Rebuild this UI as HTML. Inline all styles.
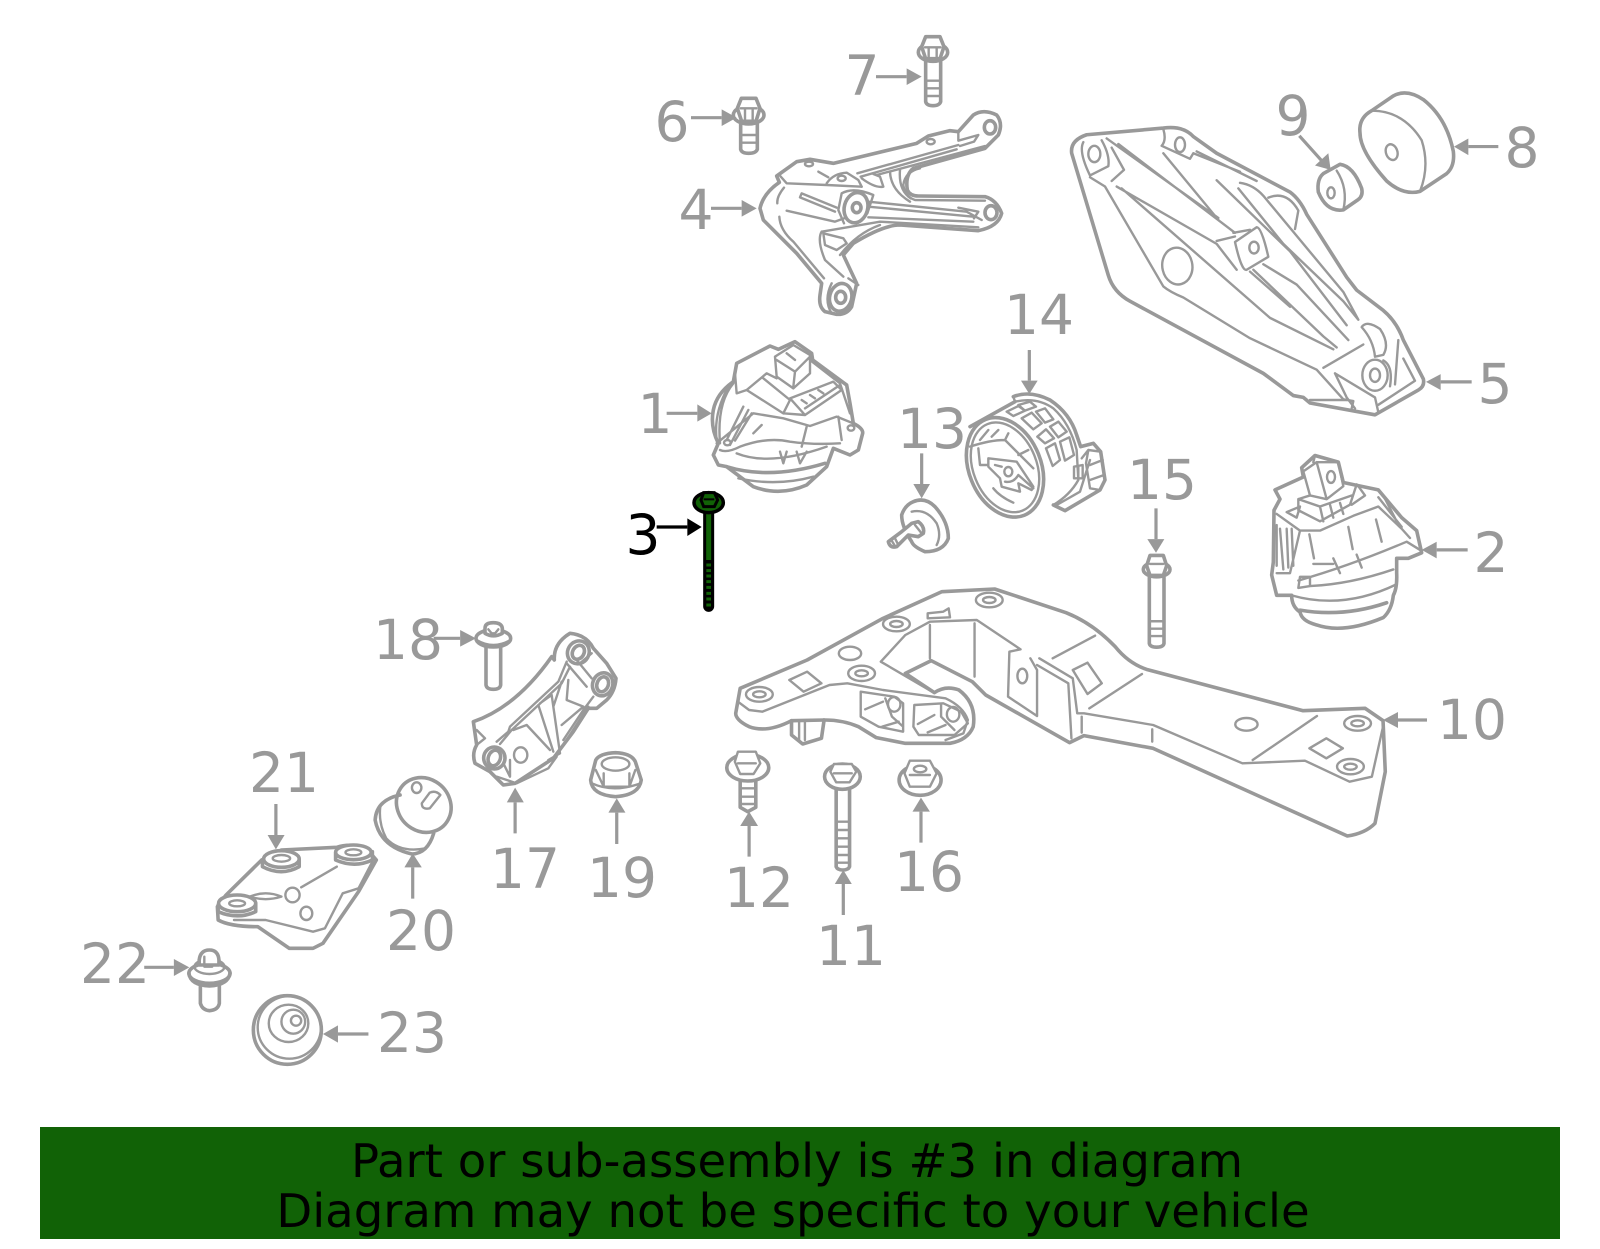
<!DOCTYPE html>
<html><head><meta charset="utf-8"><style>
html,body{margin:0;padding:0;background:#fff}
svg{display:block}
*{vector-effect:non-scaling-stroke}
.p{fill:none;stroke:#999;stroke-width:3.6;stroke-linejoin:round;stroke-linecap:round}
.p .t,.t{stroke-width:2.4}
.a{fill:#999;stroke:none}
.l{stroke:#999;stroke-width:3.2;fill:none}
text{font-family:"DejaVu Sans","Liberation Sans",sans-serif;font-size:55px;fill:#999;text-anchor:middle}
</style></head><body>
<svg width="1600" height="1249" viewBox="0 0 1600 1249" xmlns="http://www.w3.org/2000/svg">
<rect width="1600" height="1249" fill="#fff"/>

<!-- Zoom 1 group -->
<g transform="translate(620,20) scale(0.33333)">
<g class="p">
 <!-- 7 -->
 <ellipse cx="939" cy="97" rx="44" ry="27"/>
 <path d="M917 50 L960 50 L972 80 L960 116 L917 116 L905 80 Z" fill="#fff"/>
 <path class="t" d="M915 82 H962 M926 82 V114 M950 82 V114"/>
 <path d="M917 122 V245 Q920 257 939 257 Q958 257 962 245 V122"/>
 <path class="t" d="M917 182 H962 M917 205 H962 M917 228 H962"/>
 <!-- 6 -->
 <ellipse cx="386" cy="285" rx="46" ry="27"/>
 <path d="M364 235 L408 235 L420 265 L408 304 L365 304 L352 265 Z" fill="#fff"/>
 <path class="t" d="M362 265 H410 M375 265 V302 M398 265 V302"/>
 <path d="M362 310 V388 Q365 400 386 400 Q408 400 412 388 V310"/>
 <path class="t" d="M362 345 H412 M362 368 H412"/>
 <!-- 4 -->
 <path d="M420 565 Q430 520 478 487 L470 468 L530 425 L570 418 L640 430 L890 370 L925 348 L990 332 L1015 335 L1060 285 Q1090 265 1130 285 Q1150 310 1135 345 L1095 385 L880 445 Q855 465 862 510 Q870 528 895 528 L1095 530 Q1130 540 1145 580 Q1135 620 1075 632 L840 615 Q790 615 700 670 L670 705 L710 790 L695 860 Q680 885 650 883 L615 875 Q595 860 600 825 L605 790 L530 700 L430 600 Z"/>
 <path class="t" d="M478 465 L500 490 L620 495 L725 500 M492 503 Q470 530 472 550 M478 590 Q480 630 520 665 L612 775"/>
 <ellipse cx="708" cy="563" rx="35" ry="46" transform="rotate(15 708 563)"/>
 <ellipse cx="710" cy="563" rx="13" ry="15"/>
 <path class="t" d="M665 520 L655 570 L672 610 M665 520 Q700 500 760 525 L742 580"/>
 <path class="t" d="M545 520 L650 563 M540 532 L645 575 M545 520 L540 532 M500 572 L645 605 L672 595"/>
 <ellipse class="t" cx="567" cy="432" rx="12" ry="7"/>
 <ellipse class="t" cx="665" cy="475" rx="12" ry="8"/>
 <ellipse class="t" cx="932" cy="365" rx="12" ry="8"/>
 <path class="t" d="M595 455 L625 472 M620 490 Q640 460 680 458 L715 480 L725 500 M725 475 Q765 505 790 500 L780 470 L760 462"/>
 <path class="t" d="M712 460 L1015 375 M722 470 L1010 388 M770 465 L1095 378 M1015 335 L1015 362 L1075 345 L1062 365 L1020 378"/>
 <ellipse cx="1110" cy="322" rx="17" ry="20"/>
 <path class="t" d="M810 455 Q812 510 870 545 M840 450 Q835 510 872 535 M900 445 Q855 455 850 495 Q855 530 885 540 L1095 542"/>
 <path class="t" d="M745 545 L1040 575 L1085 600 M745 560 L1060 590 M745 592 L1060 605 M1015 563 L1075 575 L1062 595"/>
 <ellipse cx="1113" cy="578" rx="18" ry="21"/>
 <path class="t" d="M605 635 L780 605 L1075 622 M605 635 Q590 660 615 720 L670 770 M610 640 L670 655 L680 670 L650 690 L615 675 Z M660 705 Q710 640 780 615"/>
 <ellipse cx="662" cy="832" rx="33" ry="42" transform="rotate(15 662 832)"/>
 <ellipse cx="662" cy="832" rx="15" ry="18"/>
 <path class="t" d="M635 790 Q610 840 635 880 M685 775 L715 795"/>
 <!-- 1 -->
 <path d="M350 1030 L450 978 L475 988 L525 965 L575 1000 L578 1020 L680 1095 L690 1150 L700 1210 Q730 1225 728 1240 L715 1290 L690 1305 L640 1285 L620 1340 L560 1395 Q480 1430 400 1400 L320 1340 L295 1335 L280 1305 L295 1270 Q270 1220 280 1170 Q290 1120 340 1085 Z"/>
 <path class="t" d="M465 1010 L520 975 L570 1005 L570 1060 L520 1105 L470 1070 Z M470 1020 L525 1055 L570 1010 M525 1055 L520 1100 M500 1000 L525 1020"/>
 <path class="t" d="M380 1110 L440 1060 L470 1075 M380 1110 L490 1180 L510 1140 L430 1075 M510 1135 L640 1085 L665 1110 L555 1185 Z M490 1180 L555 1185 M555 1165 L660 1095 M545 1140 L560 1150 M570 1125 L585 1135 M595 1110 L610 1120"/>
 <path class="t" d="M345 1060 L350 1120 L380 1110 M570 1020 L660 1090 L690 1180 M290 1270 L400 1180 L490 1195 L570 1218 L650 1190 L700 1210 M330 1275 L385 1170 M320 1260 L370 1160 M345 1262 L395 1180 M300 1290 Q320 1300 360 1280 Q440 1250 510 1265 Q580 1275 660 1270 M560 1220 L545 1280 M425 1215 L400 1240 M655 1190 L665 1260"/>
 <path class="t" d="M350 1300 Q450 1340 620 1280 M480 1295 L490 1330 L500 1295 M530 1295 L540 1330 L560 1295"/>
 <path d="M320 1340 Q450 1380 615 1330"/>
 <path class="t" d="M355 1375 Q470 1400 580 1370 M340 1090 Q290 1150 300 1270 M325 1100 Q280 1180 290 1260"/>
 <ellipse class="t" cx="322" cy="1268" rx="10" ry="8"/>
 <ellipse class="t" cx="693" cy="1224" rx="10" ry="8"/>
</g>
<path class="l" d="M213 293 H305 M768 170 H860 M273 565 H365 M140 1180 H232 M1228 990 V1082 M905 1300 V1392"/>
<polygon class="a" points="305,268 350,293 305,318"/>
<polygon class="a" points="860,145 905,170 860,195"/>
<polygon class="a" points="365,540 410,565 365,590"/>
<polygon class="a" points="232,1153 275,1180 232,1205"/>
<polygon class="a" points="1203,1082 1228,1122 1253,1082"/>
<polygon class="a" points="880,1392 905,1435 930,1392"/>
</g>

<!-- Zoom 2 group -->
<g transform="translate(1050,70) scale(0.33333,0.36996)">
<g class="p">
 <!-- 5 -->
 <path d="M65 225 Q60 190 110 175 L340 157 Q400 150 430 180 L500 225 L720 330 Q750 350 770 390 L890 560 L920 595 L1000 650 Q1040 680 1060 730 L1120 835 Q1125 855 1105 865 L975 932 L780 900 L760 885 L730 880 L640 820 L240 625 Q190 600 175 555 Z"/>
 <ellipse class="t" cx="133" cy="227" rx="18" ry="22"/>
 <path class="t" d="M100 195 Q85 220 120 285 L175 260 Q180 230 155 190 M120 290 L165 315 L340 585 Q360 600 400 615 L600 725 L800 810 L880 890 L910 895 L905 915"/>
 <ellipse class="t" cx="390" cy="202" rx="15" ry="20"/>
 <path class="t" d="M340 160 Q350 190 335 205 L420 240 M170 185 L505 400 M205 200 L555 440 M185 210 L222 270 L185 300 M200 315 L500 470 L560 540 M215 320 L660 670 L850 755 M340 225 L505 405 M420 240 L430 225 L570 275 M440 220 L620 300 M500 298 L720 490 L890 690 M565 320 L700 470 L880 625 L925 675 M570 305 Q610 310 640 340 L880 600 L925 675"/>
 <ellipse class="t" cx="382" cy="530" rx="45" ry="50" transform="rotate(-15 382 530)"/>
 <path class="t" d="M655 345 Q710 325 745 380 L735 430"/>
 <path class="t" d="M555 465 L620 425 Q635 425 655 505 L590 540 Q575 545 555 465 Z M500 462 L555 450 M550 440 L600 432 M610 540 L820 720 L860 750 M640 525 L740 580 L895 730 M600 545 L720 640"/>
 <ellipse class="t" cx="612" cy="480" rx="14" ry="16"/>
 <path class="t" d="M820 805 L940 742"/>
 <ellipse class="t" cx="975" cy="825" rx="38" ry="42"/>
 <ellipse class="t" cx="975" cy="825" rx="15" ry="18"/>
 <path class="t" d="M1000 785 Q1030 800 1020 855 M935 695 Q950 675 990 700 Q1020 740 1000 770 L975 775 Q970 730 935 695Z M1045 730 L1035 850 M855 820 L975 885 L985 925 M855 820 L890 885 L915 915 M780 892 L890 892 M1060 780 L1095 840 L985 905"/>
 <!-- 9 -->
 <path d="M820 280 L870 255 Q910 260 935 320 Q940 340 925 350 L880 378 Q830 385 805 330 Q800 295 820 280Z"/>
 <path class="t" d="M860 272 Q895 320 880 378"/>
 <ellipse class="t" cx="843" cy="332" rx="11" ry="15"/>
 <!-- 8 -->
 <path d="M930 170 Q925 130 965 110 L1030 70 Q1070 50 1120 80 Q1190 130 1210 220 Q1215 260 1190 280 L1110 328 Q1060 340 1010 300 Q930 220 930 170Z"/>
 <path class="t" d="M965 110 Q1060 110 1115 190 Q1140 260 1110 328"/>
 <ellipse class="t" cx="1025" cy="222" rx="17" ry="22" transform="rotate(-25 1025 222)"/>
 <!-- 2 -->
 <path d="M675 1135 L760 1100 L755 1075 L795 1042 L865 1060 L880 1115 L985 1135 L1055 1210 L1100 1245 L1115 1305 L1075 1320 L1040 1320 L1040 1360 Q1042 1400 1030 1420 Q1025 1460 1000 1480 Q880 1525 800 1500 Q755 1490 750 1465 Q725 1450 725 1420 L680 1420 L665 1365 L670 1330 L672 1190 L690 1160 Z"/>
 <path class="t" d="M760 1085 L800 1060 L865 1060 M760 1085 L780 1150 L830 1160 L880 1125 L865 1060 M800 1060 L830 1160 M795 1042 L790 1060"/>
 <ellipse class="t" cx="843" cy="1100" rx="12" ry="16"/>
 <path class="t" d="M745 1160 L780 1150 M745 1160 L745 1190 L810 1220 L900 1175 L920 1120 M810 1180 L820 1220 M840 1175 L850 1210 M870 1170 L880 1200 M745 1160 L810 1180 L905 1150 M710 1195 L750 1180 L740 1210 Z M905 1175 L945 1150 L925 1125"/>
 <path class="t" d="M680 1200 L750 1245 L810 1245 L910 1205 L985 1180 L1055 1240 L1080 1265 M985 1155 L1055 1235 M1000 1150 L1040 1220 M690 1240 L700 1350 M710 1240 L715 1345 M725 1240 L730 1340 M680 1230 L680 1340 M750 1245 L720 1360 L680 1360 M778 1255 L792 1320 M895 1235 L908 1295 M978 1215 L995 1275"/>
 <path class="t" d="M745 1380 Q900 1340 1070 1275 L1115 1300 M750 1370 L745 1400 L780 1395 L780 1370 Z M780 1395 Q900 1390 1030 1350 M790 1335 L850 1335 M850 1320 L870 1360 M920 1310 L935 1345 M725 1420 Q880 1460 1040 1390"/>
 <path d="M750 1460 Q880 1480 1010 1440"/>
 <!-- 15 -->
 <ellipse cx="320" cy="1350" rx="40" ry="20"/>
 <path d="M300 1312 L340 1312 L350 1340 L340 1366 L300 1366 L290 1340 Z" fill="#fff"/>
 <path class="t" d="M300 1335 H340"/>
 <path d="M298 1372 V1550 Q300 1560 320 1560 Q340 1560 342 1550 V1372"/>
 <path class="t" d="M298 1490 H342 M298 1510 H342 M298 1530 H342"/>
</g>
<path class="l" d="M1345 207 H1255 M748 178 L815 245 M1265 843 H1172 M1253 1297 H1160 M318 1185 V1268"/>
<polygon class="a" points="1255,185 1212,207 1255,230"/>
<polygon class="a" points="835,225 842,270 795,258"/>
<polygon class="a" points="1172,822 1128,843 1172,865"/>
<polygon class="a" points="1160,1275 1115,1297 1160,1320"/>
<polygon class="a" points="292,1268 318,1305 343,1268"/>
</g>

<!-- Zoom 3 group -->
<g transform="translate(700,570) scale(0.44643,0.33333)">
<g class="p">
 <path d="M90 355 L240 270 L410 145 L542 65 L660 57 L820 128 Q880 160 930 230 Q960 280 1000 298 L1350 422 L1490 415 L1530 452 L1535 605 L1512 760 Q1490 790 1450 798 L1015 535 L860 497 L828 518 L640 375 L610 335 L518 272 L460 310 L525 368 Q550 345 580 360 Q620 400 612 470 Q600 510 560 520 L460 520 L395 503 L355 470 Q320 450 280 450 L205 452 Q150 490 110 470 Q80 450 80 430 Z"/>
 <path class="t" d="M85 395 L110 420 L140 425 L290 345 L330 340 L410 360 L550 385 Q590 410 600 450 L590 490 L550 510"/>
 <ellipse class="t" cx="133" cy="373" rx="30" ry="22"/><ellipse class="t" cx="133" cy="373" rx="14" ry="9"/>
 <ellipse class="t" cx="440" cy="162" rx="30" ry="22"/><ellipse class="t" cx="440" cy="162" rx="14" ry="9"/>
 <ellipse class="t" cx="648" cy="90" rx="30" ry="22"/><ellipse class="t" cx="648" cy="90" rx="14" ry="9"/>
 <ellipse class="t" cx="362" cy="310" rx="30" ry="23"/><ellipse class="t" cx="362" cy="310" rx="14" ry="9"/>
 <ellipse class="t" cx="1473" cy="460" rx="30" ry="22"/><ellipse class="t" cx="1473" cy="460" rx="14" ry="9"/>
 <ellipse class="t" cx="1457" cy="590" rx="30" ry="23"/><ellipse class="t" cx="1457" cy="590" rx="14" ry="9"/>
 <ellipse class="t" cx="336" cy="250" rx="25" ry="20"/>
 <ellipse class="t" cx="1224" cy="463" rx="25" ry="19"/>
 <ellipse class="t" cx="722" cy="318" rx="11" ry="22"/>
 <path class="t" d="M200 330 L240 305 L272 340 L232 365 Z M510 145 L510 130 L545 125 L557 115 L560 142 Z M835 300 L868 278 L900 340 L868 372 Z M1365 535 L1403 505 L1440 535 L1403 565 Z"/>
 <path class="t" d="M405 275 L460 195 L515 155 L620 150 L718 238 L693 245 L690 380 L755 438 L755 300 M515 165 L515 265 M615 160 L615 320 M405 275 L520 365 M740 265 L755 300"/>
 <path class="t" d="M760 265 L835 325 L845 430 L860 430 L1015 465 L1215 580 L1355 572 L1455 635 L1505 620 L1530 470 M755 285 L825 340 L832 505 M855 440 L855 488 M1013 478 L1013 515 M790 265 L885 197 M872 415 L990 312 M1238 570 L1382 438"/>
 <path class="t" d="M360 365 L435 380 L455 400 L455 485 L400 470 L360 440 Z M415 385 L430 440 L455 470 M370 418 L410 395 M408 470 L445 455"/>
 <ellipse class="t" cx="435" cy="403" rx="14" ry="22"/>
 <path class="t" d="M480 405 L545 400 L585 425 L600 460 L570 495 L490 495 L478 470 Z M540 405 L540 440 L570 480 M488 462 L525 435 M510 487 L550 465"/>
 <ellipse class="t" cx="567" cy="433" rx="14" ry="22"/>
 <path d="M205 452 L205 495 L230 522 L272 505 L278 450"/>
 <path class="t" d="M222 455 V510 M235 455 V510"/>
 <!-- 12 -->
 <ellipse cx="107" cy="593" rx="47" ry="40"/>
 <path class="t" d="M85 545 L125 545 L135 580 L120 612 L90 612 L78 575 Z M85 580 L125 580" fill="#fff"/>
 <path d="M90 632 V712 L107 725 L125 712 V632"/>
 <path class="t" d="M90 655 H125 M90 680 H125 M90 702 H125"/>
 <!-- 11 -->
 <ellipse cx="319" cy="620" rx="40" ry="38"/>
 <path class="t" d="M300 582 L340 582 L350 605 L335 637 L305 637 L292 605Z M300 610 L340 610" fill="#fff"/>
 <path d="M305 658 V890 Q308 900 320 900 Q332 900 335 890 V658"/>
 <path class="t" d="M305 755 H335 M305 780 H335 M305 805 H335 M305 830 H335 M305 855 H335 M305 878 H335"/>
 <!-- 16 -->
 <ellipse cx="493" cy="630" rx="47" ry="46"/>
 <path class="t" d="M470 572 L515 572 L530 610 L515 650 L470 650 L458 610Z M470 615 L515 615" fill="#fff"/>
 <ellipse class="t" cx="493" cy="597" rx="14" ry="10"/>
</g>
<path class="l" d="M110 860 V768 M321 1035 V942 M495 818 V725"/>
<polygon class="a" points="90,768 110,725 130,768"/>
<polygon class="a" points="302,942 321,900 340,942"/>
<polygon class="a" points="476,725 495,683 515,725"/>
</g>
<path class="l" d="M1398 720 H1427"/>
<polygon class="a" points="1398,712 1383,720 1398,728"/>

<!-- Zoom 4 group -->
<g transform="translate(60,590) scale(0.39541,0.33333)">
<g class="p">
 <!-- 19 -->
 <path d="M1355 510 Q1365 490 1405 488 Q1445 490 1455 515 L1470 570 Q1465 615 1405 620 Q1345 615 1342 570 Z"/>
 <ellipse class="t" cx="1405" cy="522" rx="35" ry="20"/>
 <path class="t" d="M1355 540 L1375 590 L1440 590 L1455 540 M1345 580 Q1400 610 1468 580 M1375 550 V590 M1440 550 V590"/>
 <!-- 20 -->
 <ellipse cx="920" cy="645" rx="68" ry="83" transform="rotate(-15 920 645)"/>
 <path d="M860 615 Q800 630 797 690 Q810 770 890 792 Q930 790 945 730"/>
 <path class="t" d="M810 650 Q805 700 825 745 Q860 790 925 775"/>
 <ellipse class="t" cx="902" cy="593" rx="12" ry="16"/>
 <path class="t" d="M915 640 L935 608 Q950 600 962 615 L935 655 Q915 660 915 640Z"/>
 <!-- 21 -->
 <path d="M510 810 L560 780 L700 772 Q760 750 800 810 L755 905 L665 1060 L640 1075 L580 1075 L500 1010 Q430 1010 400 990 L398 950 L420 915 Z"/>
 <ellipse cx="560" cy="807" rx="45" ry="25" fill="#fff"/>
 <path d="M512 810 V830 Q560 860 605 830 V810"/>
 <ellipse class="t" cx="560" cy="805" rx="22" ry="10"/>
 <ellipse cx="742" cy="787" rx="45" ry="22" fill="#fff"/>
 <path d="M697 790 V810 Q745 835 790 810 V785"/>
 <ellipse class="t" cx="742" cy="787" rx="20" ry="9"/>
 <ellipse cx="448" cy="940" rx="47" ry="25" fill="#fff"/>
 <path d="M400 945 V965 Q450 990 495 965 V940"/>
 <ellipse class="t" cx="448" cy="940" rx="20" ry="9"/>
 <path class="t" d="M610 892 L700 830 M480 920 Q520 900 560 920 Q520 935 480 920Z M440 990 L520 990 L640 1025 L670 1015 L715 910 L755 895 L790 815"/>
 <ellipse class="t" cx="588" cy="915" rx="18" ry="22"/>
 <ellipse class="t" cx="623" cy="970" rx="15" ry="20"/>
 <!-- 22 -->
 <ellipse cx="378" cy="1150" rx="52" ry="30"/>
 <path d="M326 1150 Q330 1185 378 1188 Q425 1185 430 1150"/>
 <ellipse class="t" cx="378" cy="1130" rx="38" ry="22"/>
 <path d="M352 1110 Q355 1080 378 1080 Q400 1080 402 1110 V1125 H352Z" fill="#fff"/>
 <path class="t" d="M365 1100 V1130 H385"/>
 <path d="M355 1190 V1240 Q360 1260 378 1262 Q400 1260 403 1240 V1190"/>
 <!-- 23 -->
 <ellipse cx="575" cy="1320" rx="86" ry="103"/>
 <ellipse class="t" cx="580" cy="1312" rx="80" ry="94"/>
 <ellipse class="t" cx="578" cy="1300" rx="50" ry="56"/>
 <ellipse class="t" cx="590" cy="1295" rx="30" ry="36"/>
 <ellipse class="t" cx="597" cy="1292" rx="13" ry="15"/>
</g>
<path class="l" d="M945 145 H1012 M1151 730 V637 M1408 762 V668 M892 926 V832 M546 642 V735 M213 1132 H288 M780 1332 H703"/>
<polygon class="a" points="1012,120 1052,145 1012,170"/>
<polygon class="a" points="1130,637 1151,593 1173,637"/>
<polygon class="a" points="1387,668 1408,625 1430,668"/>
<polygon class="a" points="871,832 892,790 915,832"/>
<polygon class="a" points="525,735 546,778 568,735"/>
<polygon class="a" points="288,1107 327,1132 288,1158"/>
<polygon class="a" points="703,1306 665,1332 703,1358"/>
</g>

<!-- Part 3 -->
<g transform="translate(610,480) scale(0.33333)">
 <path d="M296 92 V379" stroke="#000" stroke-width="11" stroke-linecap="round" fill="none"/>
 <path d="M296 92 V240" stroke="#116206" stroke-width="5" fill="none"/>
 <path d="M289 255 H303 M289 272 H303 M289 288 H303 M289 305 H303 M289 322 H303 M289 340 H303 M289 357 H303 M289 375 H303" stroke="#116206" stroke-width="3" fill="none"/>
 <ellipse cx="296" cy="68" rx="44" ry="30" fill="#116206" stroke="#000" stroke-width="3.5"/>
 <path d="M281 38 L313 38 L323 60 L313 80 L281 80 L273 60 Z" fill="#116206" stroke="#000" stroke-width="3"/>
 <path d="M281 58 H313" stroke="#000" stroke-width="2"/>
 <path d="M140 141 H232" stroke="#000" stroke-width="3.2" fill="none"/>
 <polygon points="232,115 275,141 232,168" fill="#000"/>
</g>

<!-- Part 13 -->
<g transform="translate(870,480) scale(0.33333)" class="p">
 <path d="M130 65 Q165 50 195 80 Q235 125 235 175 Q220 215 165 215 Q130 200 125 185 Q95 140 95 105 Q105 75 130 65Z"/>
 <path class="t" d="M125 95 Q170 85 200 130 Q215 165 200 195"/>
 <path d="M125 130 L145 125 Q165 140 160 160 L145 170 L115 165 L80 200 Q60 205 55 185 L95 155 L125 130Z" fill="#fff"/>
 <path class="t" d="M135 135 L155 160 M75 175 L85 195 M65 182 L75 198"/>
</g>

<!-- Part 14 -->
<g transform="translate(950,380) scale(0.33333)" class="p">
 <ellipse cx="165" cy="262" rx="108" ry="155" transform="rotate(-22 165 262)"/>
 <ellipse class="t" cx="165" cy="262" rx="95" ry="140" transform="rotate(-22 165 262)"/>
 <path d="M60 140 L195 65 M190 50 Q240 30 300 60 Q360 100 380 165 L392 200 L430 190 L452 215 L465 300 L450 330 L345 392 L310 375"/>
 <path class="t" d="M190 50 L195 65 Q260 50 310 85 Q360 130 380 210 L385 300 Q360 345 310 375"/>
 <path class="t" d="M215 115 L245 98 L275 130 L250 148Z M258 95 L285 85 L310 118 L285 128Z M262 170 L288 148 L312 175 L285 190Z M300 140 L325 125 L350 155 L325 172Z M288 205 L315 190 L330 240 L308 258Z M330 185 L358 172 L372 225 L345 242Z M170 95 L205 78 L225 92 L190 108Z M205 75 L240 65 L258 80 L225 92Z"/>
 <path class="t" d="M372 260 L398 255 V295 H372 Z M385 260 V295 M395 235 L415 210 L452 215 M415 210 L408 250 L420 325 L450 330 M420 255 L458 240 M420 300 L462 285 M320 375 L390 335 L420 240"/>
 <path class="t" d="M90 180 L115 150 M125 170 L145 150 M85 205 L90 255 L110 255 M60 200 Q120 180 165 180 L250 265 M165 180 L175 160 M205 225 L235 210 M130 325 Q150 350 190 368 M115 235 L200 245 L250 320 L245 330 L205 310 L210 335 L155 320 L150 295 L115 260 Z M135 255 L155 260 M165 305 Q190 310 205 285 M205 285 L250 325"/>
 <ellipse class="t" cx="175" cy="275" rx="12" ry="14"/>
</g>

<!-- Part 17 & 18 -->
<g transform="translate(460,620) scale(0.33333)" class="p">
 <path d="M40 305 Q170 260 275 110 L283 120 Q280 70 330 40 Q380 45 400 85 L440 130 L468 175 Q465 215 440 240 L410 265 L385 265 L340 335 L280 415 L165 490 L130 495 L90 455 L45 430 Q35 400 50 375 L40 305Z"/>
 <ellipse cx="355" cy="97" rx="32" ry="35" transform="rotate(30 355 97)"/>
 <ellipse cx="355" cy="97" rx="17" ry="22" transform="rotate(30 355 97)"/>
 <ellipse cx="428" cy="193" rx="30" ry="35" transform="rotate(20 428 193)"/>
 <ellipse cx="428" cy="193" rx="17" ry="23" transform="rotate(20 428 193)"/>
 <ellipse cx="103" cy="414" rx="32" ry="33"/>
 <ellipse cx="103" cy="414" rx="18" ry="24" transform="rotate(20 103 414)"/>
 <ellipse class="t" cx="182" cy="405" rx="20" ry="23"/>
 <path class="t" d="M320 125 L295 185 L150 320 L145 335 L110 365 M330 140 L305 190 L155 330 L120 372 M320 130 L380 200 M350 120 L395 175 M395 100 L360 130 M305 185 L280 260 L300 400 L265 420 M325 180 L320 240 L370 260 L305 315 M240 250 L275 225 L280 260 M235 255 L280 395 M160 330 L200 315 L270 390 M385 260 L300 390 L290 400 M400 230 L370 270 L310 360 M110 470 L170 490 L265 445 L290 410 M130 430 L150 470 L150 420 M50 330 L75 355 L50 375"/>
 <ellipse cx="100" cy="55" rx="52" ry="26"/>
 <path class="t" d="M50 60 Q100 90 152 60"/>
 <path d="M75 25 Q75 8 100 8 Q125 8 127 25 V40 Q100 55 75 40Z" fill="#fff"/>
 <path class="t" d="M85 28 L95 40 H105 L115 28"/>
 <path d="M78 78 V195 Q80 208 100 208 Q120 208 122 195 V78"/>
</g>

<!-- Labels -->
<text x="655" y="433">1</text>
<text x="1491" y="572">2</text>
<text x="643" y="554" style="fill:#000">3</text>
<text x="696" y="229">4</text>
<text x="1495" y="403">5</text>
<text x="672" y="141">6</text>
<text x="862" y="95">7</text>
<text x="1522" y="167">8</text>
<text x="1293" y="135">9</text>
<text x="1472" y="739">10</text>
<text x="851" y="965">11</text>
<text x="759" y="907">12</text>
<text x="932" y="448">13</text>
<text x="1039" y="334">14</text>
<text x="1162" y="499">15</text>
<text x="929" y="891">16</text>
<text x="525" y="888">17</text>
<text x="408" y="659">18</text>
<text x="622" y="897">19</text>
<text x="421" y="950">20</text>
<text x="284" y="792">21</text>
<text x="115" y="983">22</text>
<text x="412" y="1052">23</text>

<!-- Banner -->
<rect x="40" y="1127" width="1520" height="112" fill="#116206"/>
<text x="797" y="1177" style="fill:#000;font-size:46.6px">Part or sub-assembly is #3 in diagram</text>
<text x="793" y="1227" style="fill:#000;font-size:46.6px">Diagram may not be specific to your vehicle</text>
</svg>
</body></html>
